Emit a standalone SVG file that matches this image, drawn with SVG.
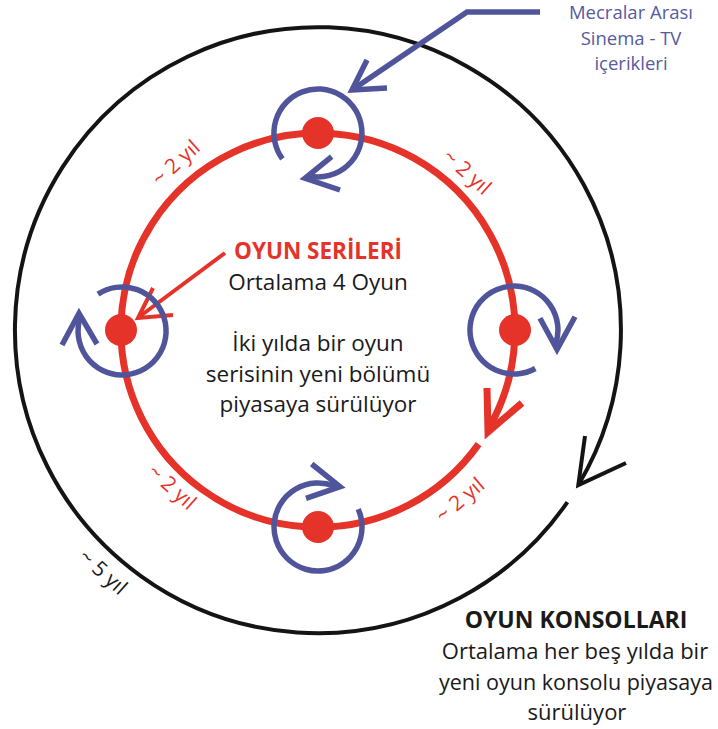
<svg xmlns="http://www.w3.org/2000/svg" width="718" height="729" viewBox="0 0 718 729">
<style>
.red{fill:none;stroke:#e5332a;stroke-linecap:butt;stroke-linejoin:miter}
.blue{fill:none;stroke:#50559b;stroke-width:5.5;stroke-linecap:butt;stroke-linejoin:miter}
.blk{fill:none;stroke:#141414;stroke-width:4;stroke-linejoin:miter}
.dot{fill:#e5332a}
text{font-family:"Open Sans","Noto Sans","Liberation Sans",sans-serif;text-anchor:middle}
.t{font-size:22.5px;fill:#1a1a1a}
.tc{font-size:22px;fill:#1a1a1a}
.tb{font-size:22.5px;font-weight:700}
.bl{font-size:18.5px;fill:#565aa0}
.yr{font-size:21px;fill:#e5332a}
.yk{font-size:21px;fill:#1a1a1a}
</style>
<rect width="718" height="729" fill="#fff"/>
<g id="connectors">
  <path id="console-cycle" class="blk" d="M567.4,502.1 A303,303 0 1 1 578.3,485.1"/>
  <polyline class="blk" points="585,436 578.3,485.1 626,463"/>
  <path id="series-cycle" class="red" stroke-width="7" d="M478.6,444.1 A197,197 0 1 1 488.6,428.5"/>
  <polyline class="red" stroke-width="7" points="487,388 488,432 522,403"/>
  <polyline id="media-pointer" class="blue" stroke-width="4.5" points="540,12 467,12 352,90"/>
  <polyline class="blue" stroke-width="4.5" points="367,60 352,90 387,88"/>
  <line id="series-pointer" class="red" stroke-width="4" x1="225" y1="253" x2="139" y2="317"/>
  <polyline class="red" stroke-width="4" points="153,288 138,318 173,315"/>
</g>
<g id="node-top">
  <path class="blue" d="M282.4,158.9 A44,44 0 1 1 310.4,176.3"/>
  <polyline class="blue" points="331.7,156.7 305,178.3 340,190"/>
  <circle class="dot" cx="318" cy="133" r="16"/>
</g>
<g id="node-left">
  <path class="blue" d="M98,294.1 A44,44 0 1 1 80.2,317.4"/>
  <polyline class="blue" points="62,345 79,313.3 97,344"/>
  <circle class="dot" cx="121" cy="330" r="16"/>
</g>
<g id="node-right">
  <path class="blue" d="M535.3,368.5 A44,44 0 1 1 555.8,343.6"/>
  <polyline class="blue" points="540,318.3 557,349.5 575,316.7"/>
  <circle class="dot" cx="515" cy="330" r="16"/>
</g>
<g id="node-bottom">
  <path class="blue" d="M358.2,509.1 A44,44 0 1 1 334.5,486.2"/>
  <polyline class="blue" points="311.7,464 340,486.7 306,498.3"/>
  <circle class="dot" cx="318" cy="527" r="16"/>
</g>
<g id="media-label">
  <text class="bl" x="631" y="19">Mecralar Arası</text>
  <text class="bl" x="631" y="45">Sinema - TV</text>
  <text class="bl" x="631" y="70">içerikleri</text>
</g>
<g id="series-label">
  <text class="tb" x="318" y="259" fill="#e5332a">OYUN SERİLERİ</text>
  <text class="t" x="318" y="290">Ortalama 4 Oyun</text>
  <text class="t" x="318" y="350.5">İki yılda bir oyun</text>
  <text class="t" x="318" y="382">serisinin yeni bölümü</text>
  <text class="t" x="318" y="412">piyasaya sürülüyor</text>
</g>
<g id="console-label">
  <text class="tb" x="576" y="628" fill="#1a1a1a" style="font-size:23px">OYUN KONSOLLARI</text>
  <text class="tc" x="575" y="659">Ortalama her beş yılda bir</text>
  <text class="tc" x="576" y="690" textLength="274" lengthAdjust="spacingAndGlyphs">yeni oyun konsolu piyasaya</text>
  <text class="tc" x="577" y="720">sürülüyor</text>
</g>
<g id="period-labels">
  <text class="yr" transform="translate(176,163) rotate(-42)" y="7">~ 2 yıl</text>
  <text class="yr" transform="translate(467,172) rotate(42)" y="7">~ 2 yıl</text>
  <text class="yr" transform="translate(172,487) rotate(42)" y="7">~ 2 yıl</text>
  <text class="yr" transform="translate(460,500) rotate(-40)" y="7">~ 2 yıl</text>
  <text class="yk" transform="translate(103,572) rotate(42)" y="7">~ 5 yıl</text>
</g>
</svg>
